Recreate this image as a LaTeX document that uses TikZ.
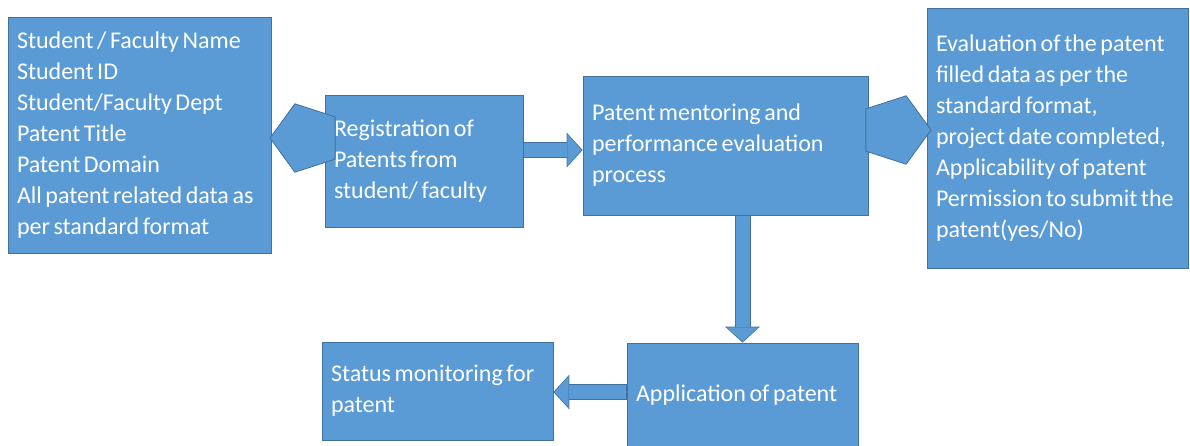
\documentclass[tikz,border=0pt]{standalone}
\usepackage{fontspec}
\setmainfont{Carlito}
\usepackage{tikz}
\usetikzlibrary{shapes.geometric,arrows.meta}

\definecolor{boxblue}{HTML}{5B9BD5}
\definecolor{edgeblue}{HTML}{41719C}

\tikzset{
  box/.style={rectangle,draw=edgeblue,fill=boxblue,line width=0.8pt,
    text=white,align=left,inner xsep=9pt,inner ysep=0pt,
    font=\fontsize{24}{31}\selectfont,
    execute at begin node={\spaceskip=0.15em\relax}},
  penta/.style={regular polygon,regular polygon sides=5,draw=edgeblue,
    fill=boxblue,line width=0.8pt,inner sep=0pt,minimum size=72pt},
  fatback/.style={line width=16pt,draw=edgeblue,
    -{Triangle[width=35pt,length=16pt,line width=0pt]}},
  fatfront/.style={line width=14pt,draw=boxblue,shorten >=1.2pt,shorten <=0.8pt,
    -{Triangle[width=31.5pt,length=14pt,line width=0pt]}}
}

\begin{document}
\begin{tikzpicture}[x=1pt,y=-1pt]
    \useasboundingbox (0,0) rectangle (1190,445);
    %% Boxes
    \node[box,minimum width=263pt,minimum height=236pt,text width=245pt] (info) at (139.5,135)
      {Student / Faculty Name\\Student ID\\Student/Faculty Dept\\Patent Title\\Patent Domain\\All patent related data as\\per standard format};
    \node[box,minimum width=198pt,minimum height=132pt,text width=180pt] (reg) at (424,161)
      {Registration of\\Patents from\\student/ faculty};
    \node[box,minimum width=285pt,minimum height=139pt,text width=267pt] (ment) at (725.5,145.5)
      {Patent mentoring and\\performance evaluation\\process};
    \node[box,minimum width=261pt,minimum height=260pt,text width=243pt] (eval) at (1057.5,138)
      {Evaluation of the patent\\filled data as per the\\standard format,\\project date completed,\\Applicability of patent\\Permission to submit the\\patent(yes/No)};
    \node[box,minimum width=231pt,minimum height=105pt,text width=213pt] (app) at (742.5,395.5)
      {Application of patent};
    \node[box,minimum width=231pt,minimum height=98pt,text width=213pt] (status) at (437.5,391)
      {Status monitoring for\\patent};
    %% Pentagons
    \node[penta,shape border rotate=90] (pentL) at (306,138) {};
    \node[penta,shape border rotate=-90] (pentR) at (895,130) {};
    %% Block arrows
    \draw[fatback] (reg.east |- 0,150) -- (ment.west |- 0,150);
    \draw[fatfront] (reg.east |- 0,150) -- (ment.west |- 0,150);
    \draw[fatback] (app.north |- ment.south) -- (app.north);
    \draw[fatfront] (app.north |- ment.south) -- (app.north);
    \draw[fatback] (app.west |- 0,392) -- (status.east |- 0,392);
    \draw[fatfront] (app.west |- 0,392) -- (status.east |- 0,392);
\end{tikzpicture}
\end{document}
